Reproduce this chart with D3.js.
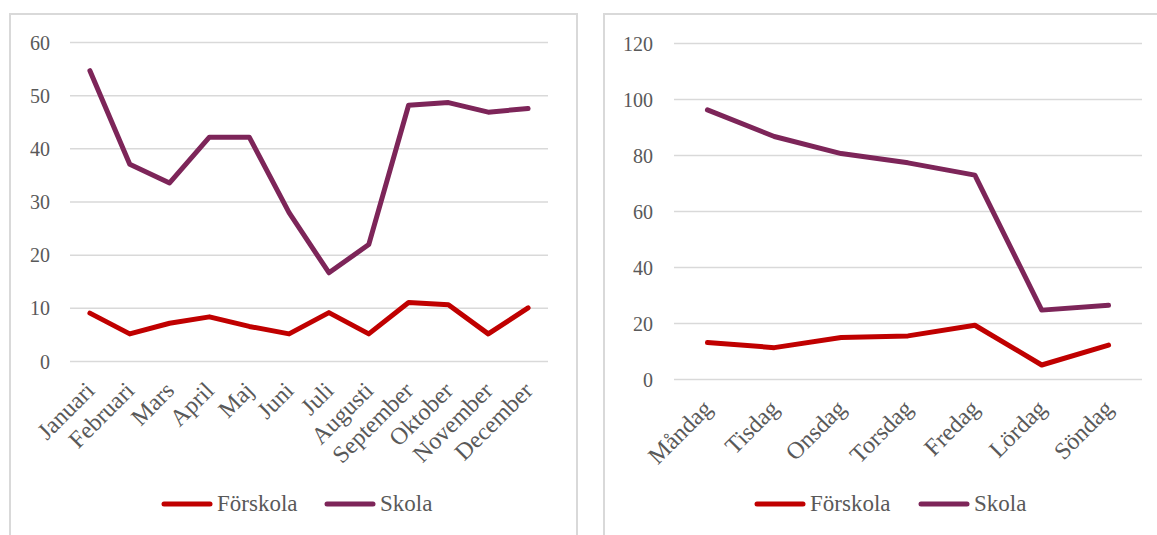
<!DOCTYPE html>
<html>
<head>
<meta charset="utf-8">
<script src="https://cdn.jsdelivr.net/npm/d3@7"></script>
<style>
  html, body { margin: 0; padding: 0; background: #ffffff; }
  svg { display: block; }
</style>
</head>
<body>
<svg id="chart" width="1157" height="535"></svg>
<script>
// Monthly figures
const months = ["Januari", "Februari", "Mars", "April", "Maj", "Juni", "Juli",
                "Augusti", "September", "Oktober", "November", "December"];
const monthForskola = [9.0, 5.1, 7.1, 8.3, 6.5, 5.1, 9.1, 5.1, 11.0, 10.6, 5.1, 10.0];
const monthSkola    = [54.6, 37.0, 33.5, 42.1, 42.1, 27.9, 16.6, 21.9, 48.1, 48.6, 46.8, 47.5];
const monthTicks    = [0, 10, 20, 30, 40, 50, 60];

// Weekday figures
const weekdays = ["Måndag", "Tisdag", "Onsdag", "Torsdag", "Fredag", "Lördag", "Söndag"];
const dayForskola = [13.0, 11.2, 14.8, 15.4, 19.2, 5.0, 12.1];
const daySkola    = [96.1, 86.6, 80.5, 77.2, 72.8, 24.6, 26.3];
const dayTicks    = [0, 20, 40, 60, 80, 100, 120];

const seriesNames = ["Förskola", "Skola"];
const seriesColors = ["#c00000", "#7d2559"];

const FONT = "'Liberation Serif', 'Times New Roman', Times, serif";
const svg = d3.select("#chart")
  .style("font-family", FONT);

function label(sel, size) {
  return sel
    .attr("font-family", "Liberation Serif")
    .style("font-family", FONT)
    .style("font-size", size + "px")
    .style("fill", "#595959");
}

function drawPanel(opt) {
  const g = svg.append("g");

  // panel frame (open at the bottom / right where it runs off the page)
  g.append("rect")
    .attr("x", opt.frame[0]).attr("y", opt.frame[1])
    .attr("width", opt.frame[2]).attr("height", opt.frame[3])
    .attr("fill", "none").attr("stroke", "#d9d9d9").attr("stroke-width", 2);

  const x = d3.scaleBand().domain(opt.categories).range([opt.left, opt.right]);
  const y = d3.scaleLinear().domain([0, d3.max(opt.ticks)]).range([opt.bottom, opt.top]);

  // gridlines + value labels
  const yAxis = d3.axisLeft(y).tickValues(opt.ticks).tickSize(0).tickPadding(0);
  const ya = g.append("g").attr("transform", `translate(${opt.left},0)`).call(yAxis);
  ya.attr("font-family", null).attr("font-size", null);
  ya.select(".domain").remove();
  ya.selectAll(".tick line").remove();
  ya.selectAll(".tick text").remove();
  ya.selectAll(".tick").append("line")
    .attr("x1", 0).attr("x2", opt.right - opt.left)
    .attr("stroke", "#d9d9d9").attr("stroke-width", 1.5);
  label(ya.selectAll(".tick").append("text"), 20)
    .attr("text-anchor", "end")
    .attr("x", opt.labelX - opt.left)
    .attr("y", 7)
    .text(d => d);

  // category labels, rotated
  const xAxis = d3.axisBottom(x).tickSize(0).tickPadding(0);
  const xa = g.append("g").attr("transform", `translate(0,${opt.bottom})`).call(xAxis);
  xa.attr("font-family", null).attr("font-size", null);
  xa.select(".domain").remove();
  xa.selectAll(".tick text").remove();
  label(xa.selectAll(".tick").append("text"), 24)
    .attr("text-anchor", "end")
    .attr("transform", "translate(6,31) rotate(-45)")
    .text(d => d);

  // lines
  const line = d3.line()
    .x((d, i) => x(opt.categories[i]) + x.bandwidth() / 2)
    .y(d => y(d));
  opt.series.forEach((vals, k) => {
    g.append("path")
      .datum(vals)
      .attr("d", line)
      .attr("fill", "none")
      .attr("stroke", seriesColors[k])
      .attr("stroke-width", 5)
      .attr("stroke-linejoin", "round")
      .attr("stroke-linecap", "round");
  });

  // legend
  const lg = g.append("g").attr("transform", `translate(${opt.legendX},${opt.legendY})`);
  const offsets = [0, opt.legendGap];
  seriesNames.forEach((name, k) => {
    const item = lg.append("g").attr("transform", `translate(${offsets[k]},0)`);
    item.append("line")
      .attr("x1", 2).attr("x2", 48).attr("y1", 0).attr("y2", 0)
      .attr("stroke", seriesColors[k]).attr("stroke-width", 5)
      .attr("stroke-linecap", "round");
    label(item.append("text"), 23)
      .attr("x", 55).attr("y", 7)
      .text(name);
  });
}

drawPanel({
  frame: [10, 14, 567, 560],
  categories: months,
  series: [monthForskola, monthSkola],
  ticks: monthTicks,
  left: 70, right: 548, top: 42, bottom: 361,
  labelX: 50,
  legendX: 162, legendY: 504, legendGap: 163
});

drawPanel({
  frame: [604, 14, 600, 560],
  categories: weekdays,
  series: [dayForskola, daySkola],
  ticks: dayTicks,
  left: 674, right: 1142, top: 43, bottom: 379,
  labelX: 653,
  legendX: 755, legendY: 504, legendGap: 164
});
</script>
</body>
</html>
